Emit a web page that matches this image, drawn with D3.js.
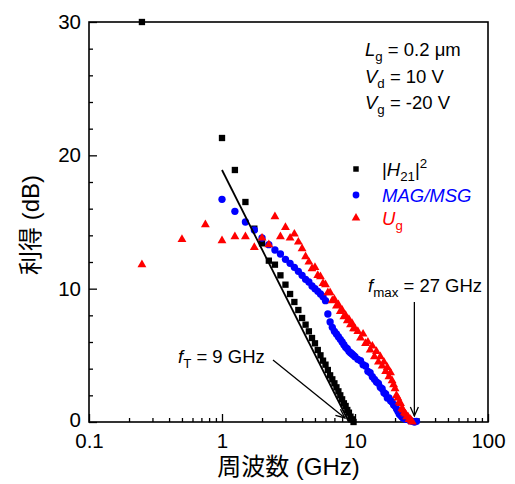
<!DOCTYPE html>
<html>
<head>
<meta charset="utf-8">
<script src="https://cdn.jsdelivr.net/npm/d3@7"></script>
<style>
	body { margin: 0; background: #fff; }
	svg text { font-family: "Liberation Sans", Arial, "Noto Sans CJK JP", sans-serif; }
</style>
</head>
<body>
<div id="chart"></div>
<script>
// |H21|^2
var h21Freq = [0.25, 1, 1.25, 1.5, 1.75, 2, 2.25, 2.5, 2.75, 3, 3.25, 3.5, 3.75, 4, 4.25, 4.5, 4.75, 5, 5.25, 5.5, 5.75, 6, 6.25, 6.5, 6.75, 7, 7.25, 7.5, 7.75, 8, 8.25, 8.5, 8.75, 9, 9.25, 9.5, 9.75];
var h21Gain = [30.0, 21.3, 18.9, 16.5, 14.5, 13.4, 12.1, 11.8, 11.0, 10.3, 9.6, 9.0, 8.4, 7.8, 7.3, 6.8, 6.3, 5.9, 5.4, 5.0, 4.6, 4.3, 3.9, 3.5, 3.2, 2.9, 2.6, 2.3, 2.0, 1.7, 1.4, 1.2, 0.9, 0.7, 0.4, 0.2, 0.0];

// -20 dB/dec fit line
var fitFreq = [1, 9];
var fitGain = [18.9, 0];

// MAG/MSG
var magFreq = [1, 1.25, 1.5, 1.75, 2, 2.25, 2.5, 2.75, 3, 3.25, 3.5, 3.75, 4, 4.25, 4.5, 4.75, 5, 5.25, 5.5, 5.75, 6, 6.25, 6.5, 6.75, 7, 7.25, 7.5, 7.75, 8, 8.25, 8.5, 8.75, 9, 9.25, 9.5, 9.75, 10,
	10.5, 11, 11.5, 12, 12.5, 13, 13.5, 14, 14.5, 15, 15.5, 16, 16.5, 17, 17.5, 18, 18.5, 19, 19.5, 20, 20.5, 21, 21.5, 22, 22.5, 23, 24, 25, 26, 27, 28, 29];
var magGain = [16.7, 15.8, 15.0, 14.4, 13.8, 13.3, 12.9, 12.6, 12.2, 11.9, 11.6, 11.3, 11.0, 10.7, 10.5, 10.2, 10.0, 9.8, 9.6, 9.4, 9.1, 8.1, 7.5, 7.1, 6.8, 6.6, 6.4, 6.2, 6.0, 5.8, 5.6, 5.5, 5.3, 5.2, 5.1, 5.0, 4.9,
	4.7, 4.6, 4.3, 4.2, 3.8, 3.7, 3.4, 3.2, 3.0, 2.9, 2.6, 2.5, 2.2, 2.1, 1.8, 1.8, 1.6, 1.5, 1.3, 1.2, 1.0, 0.8, 0.6, 0.5, 0.4, 0.3, 0.2, 0.2, 0.1, 0.05, 0.0, 0.05];

// Ug
var ugFreq = [0.25, 0.5, 0.75, 1, 1.25, 1.5, 1.75, 2, 2.25, 2.5, 2.75, 3, 3.25, 3.5, 3.75, 4, 4.25, 4.5, 4.75, 5, 5.25, 5.5, 5.75, 6, 6.25, 6.5, 6.75, 7, 7.25, 7.5, 7.75, 8, 8.25, 8.5, 8.75, 9, 9.25, 9.5, 9.75, 10,
	10.5, 11, 11.5, 12, 12.5, 13, 13.5, 14, 14.5, 15, 15.5, 16, 16.5, 17, 17.5, 18, 18.5, 19, 19.5, 20, 20.5, 21, 21.5, 22, 22.5, 23, 23.5, 24, 24.5, 25, 25.5, 26, 26.5, 27];
var ugGain = [11.8, 13.7, 14.8, 13.6, 13.9, 13.9, 13.1, 13.8, 13.3, 15.4, 13.9, 14.6, 13.8, 14.1, 13.5, 13.0, 12.4, 12.0, 11.5, 11.6, 11.0, 10.9, 10.4, 10.3, 9.7, 9.7, 9.1, 9.2, 8.7, 8.8, 8.3, 8.4, 7.9, 8.0, 7.6, 7.7, 7.3, 7.4, 7.0, 7.0,
	6.8, 6.3, 6.6, 5.9, 6.0, 5.4, 5.7, 4.9, 5.3, 4.5, 4.9, 4.2, 4.5, 3.8, 4.1, 3.4, 3.7, 3.1, 2.8, 2.5, 2.0, 1.8, 1.5, 1.4, 1.0, 0.9, 0.7, 0.6, 0.4, 0.4, 0.2, 0.2, 0.1, 0.0];

var xTicks = [0.1, 1, 10, 100];
var yTicks = [0, 10, 20, 30];
var fT = 9, fMax = 27;

function drawChart() {
	var width = 515,
		height = 484,
		left = 89, right = 488, top = 22, bottom = 422;

	var svg = d3.select("#chart")
		.append("svg")
		.attr("width", width)
		.attr("height", height);

	var x = d3.scaleLog().domain([0.1, 100]).range([left, right]);
	var y = d3.scaleLinear().domain([0, 30]).range([bottom, top]);

	var defs = svg.append("defs");
	defs.append("marker")
		.attr("id", "arr")
		.attr("viewBox", "-10 -6 12 12")
		.attr("refX", 0).attr("refY", 0)
		.attr("markerWidth", 12).attr("markerHeight", 12)
		.attr("markerUnits", "userSpaceOnUse")
		.attr("orient", "auto")
		.append("path")
		.attr("d", "M-9,-4 L0,0 L-9,4")
		.attr("fill", "none")
		.attr("stroke", "#000")
		.attr("stroke-width", 1.3);

	// minor ticks
	var xMinor = [];
	[0.1, 1, 10].forEach(function (d) {
		for (var k = 2; k < 10; k++) xMinor.push(d * k);
	});
	var yMinor = d3.range(0, 31, 2).filter(function (d) { return d % 10 != 0; });

	svg.append("g")
		.attr("transform", "translate(0," + bottom + ")")
		.call(d3.axisBottom(x).tickValues(xMinor).tickSize(-4).tickFormat(""))
		.call(function (g) { g.select(".domain").remove(); });

	svg.append("g")
		.attr("transform", "translate(0," + bottom + ")")
		.call(d3.axisBottom(x).tickValues(xTicks).tickSize(-8).tickPadding(11).tickFormat(function (d) { return String(d); }))
		.call(function (g) {
			g.select(".domain").remove();
			g.selectAll("text").attr("font-size", 20.5).attr("fill", "#000")
				.attr("font-family", "'Liberation Sans', Arial, sans-serif");
		});

	svg.append("g")
		.attr("transform", "translate(" + left + ",0)")
		.call(d3.axisLeft(y).tickValues(yMinor).tickSize(-4).tickFormat(""))
		.call(function (g) { g.select(".domain").remove(); });

	svg.append("g")
		.attr("transform", "translate(" + left + ",0)")
		.call(d3.axisLeft(y).tickValues(yTicks).tickSize(-8).tickPadding(8))
		.call(function (g) {
			g.select(".domain").remove();
			g.selectAll("text").attr("font-size", 20.5).attr("fill", "#000")
				.attr("font-family", "'Liberation Sans', Arial, sans-serif")
				.attr("dy", function (d) { return d === 0 ? "0.2em" : "0.32em"; });
		});

	svg.selectAll(".tick line").attr("stroke", "#000").attr("stroke-width", 1.3);

	// frame
	svg.append("rect")
		.attr("x", left).attr("y", top)
		.attr("width", right - left).attr("height", bottom - top)
		.attr("fill", "none")
		.attr("stroke", "#000")
		.attr("stroke-width", 1.6);

	// series
	var series = [
		{ f: h21Freq, g: h21Gain, type: d3.symbolSquare, size: 40, color: "#000" },
		{ f: magFreq, g: magGain, type: d3.symbolCircle, size: 42, color: "#0000ff" },
		{ f: ugFreq, g: ugGain, type: d3.symbolTriangle, size: 34, color: "#ff0000" }
	];

	series.forEach(function (s) {
		svg.append("g")
			.selectAll("path")
			.data(d3.zip(s.f, s.g))
			.join("path")
			.attr("transform", function (d) { return "translate(" + x(d[0]) + "," + y(d[1]) + ")"; })
			.attr("d", d3.symbol().type(s.type).size(s.size))
			.attr("fill", s.color);
	});

	svg.append("path")
		.datum(d3.zip(fitFreq, fitGain))
		.attr("d", d3.line().x(function (d) { return x(d[0]); }).y(function (d) { return y(d[1]); }))
		.attr("fill", "none")
		.attr("stroke", "#000")
		.attr("stroke-width", 1.8);

	// arrows
	svg.append("line")
		.attr("x1", 273).attr("y1", 360)
		.attr("x2", x(fT) - 4).attr("y2", y(0) - 4)
		.attr("stroke", "#000").attr("stroke-width", 1.3)
		.attr("marker-end", "url(#arr)");

	svg.append("line")
		.attr("x1", x(fMax) + 2).attr("y1", 302)
		.attr("x2", x(fMax) + 2).attr("y2", y(0) - 6)
		.attr("stroke", "#000").attr("stroke-width", 1.3)
		.attr("marker-end", "url(#arr)");

	// rich text helper
	function rich(tx, ty, parts, size, color) {
		var t = svg.append("text")
			.attr("x", tx).attr("y", ty)
			.attr("font-size", size)
			.attr("fill", color || "#000");
		var shift = 0;
		parts.forEach(function (p) {
			var dy = 0, fs = size;
			if (p.sub) { fs = size * 0.72; dy = 5 - shift; shift = 5; }
			else if (p.sup) { fs = size * 0.72; dy = -8 - shift; shift = -8; }
			else { dy = -shift; shift = 0; }
			t.append("tspan")
				.attr("dy", dy)
				.attr("font-size", fs)
				.attr("font-style", p.it ? "italic" : "normal")
				.text(p.t);
		});
		return t;
	}

	rich(365, 56, [{ t: "L", it: true }, { t: "g", sub: true }, { t: " = 0.2 μm" }], 18.5);
	rich(365, 83, [{ t: "V", it: true }, { t: "d", sub: true }, { t: " = 10 V" }], 18.5);
	rich(365, 109, [{ t: "V", it: true }, { t: "g", sub: true }, { t: " = -20 V" }], 18.5);

	// legend
	var legend = [
		{ y: 169, type: d3.symbolSquare, size: 30, color: "#000", parts: [{ t: "|" }, { t: "H", it: true }, { t: "21", sub: true }, { t: "|" }, { t: "2", sup: true }] },
		{ y: 195, type: d3.symbolCircle, size: 36, color: "#0000ff", parts: [{ t: "MAG/MSG", it: true }] },
		{ y: 218, type: d3.symbolTriangle, size: 32, color: "#ff0000", parts: [{ t: "U", it: true }, { t: "g", sub: true }] }
	];
	legend.forEach(function (l) {
		svg.append("path")
			.attr("transform", "translate(356," + l.y + ")")
			.attr("d", d3.symbol().type(l.type).size(l.size))
			.attr("fill", l.color);
		rich(382, l.y + 7, l.parts, 18.5, l.color);
	});

	rich(178, 363, [{ t: "f", it: true }, { t: "T", sub: true }, { t: " = 9 GHz" }], 18.5);
	rich(368, 292, [{ t: "f", it: true }, { t: "max", sub: true }, { t: " = 27 GHz" }], 18.5);

	// axis titles
	svg.append("text")
		.attr("x", (left + right) / 2).attr("y", 475)
		.attr("text-anchor", "middle")
		.attr("font-size", 24)
		.text("周波数 (GHz)");

	svg.append("text")
		.attr("transform", "translate(39," + ((top + bottom) / 2 + 3) + ") rotate(-90)")
		.attr("text-anchor", "middle")
		.attr("font-size", 24)
		.text("利得 (dB)");
}

drawChart();
</script>
</body>
</html>
